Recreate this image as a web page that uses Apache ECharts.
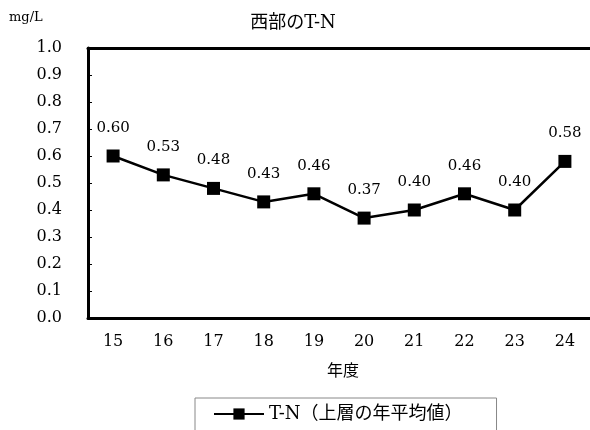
<!DOCTYPE html>
<html><head><meta charset="utf-8">
<script src="https://cdn.jsdelivr.net/npm/echarts@6/dist/echarts.min.js"></script>
<style>html,body{margin:0;padding:0;background:#fff}#c{width:590px;height:430px}</style>
</head><body><div id="c"></div>
<script>
const categories = ['15','16','17','18','19','20','21','22','23','24'];
const tnValues = [0.60, 0.53, 0.48, 0.43, 0.46, 0.37, 0.40, 0.46, 0.40, 0.58];
const seriesName = 'T-N（上層の年平均値）';
const titleText = '西部のT-N';
const unitText = 'mg/L';
const xName = '年度';

const FONT = '"DejaVu Serif", "Noto Sans CJK JP", serif';
const chart = echarts.init(document.getElementById('c'), null, {renderer: 'canvas'});
chart.setOption({
  animation: false,
  backgroundColor: '#fff',
  textStyle: {fontFamily: FONT, color: '#000'},
  title: {text: titleText, left: 288, top: 9, textAlign: 'center',
    textStyle: {fontFamily: FONT, fontSize: 18, fontWeight: 'normal', color: '#000'}},
  graphic: [
    {type: 'text', left: 9, top: 11, style: {text: unitText, font: '13px ' + FONT, fill: '#000'}},
    {type: 'text', left: 327, top: 364, style: {text: xName, font: '16px ' + FONT, fill: '#000'}}
  ],
  legend: {
    left: 195, top: 398,
    padding: [7, 34, 20, 18],
    borderColor: '#888', borderWidth: 1,
    itemWidth: 50, itemHeight: 14, itemGap: 8,
    textStyle: {fontFamily: FONT, fontSize: 18, color: '#000'},
    data: [seriesName]
  },
  grid: {left: 88, top: 48, width: 508, height: 270, containLabel: false},
  xAxis: [{
    type: 'category', data: categories, boundaryGap: true,
    axisLine: {lineStyle: {color: '#000', width: 3}},
    axisTick: {inside: true, length: 5, lineStyle: {color: '#000', width: 2}, alignWithLabel: false},
    axisLabel: {fontFamily: FONT, fontSize: 16, color: '#000', margin: 16},
    splitLine: {show: false}
  }, {
    type: 'category', data: categories, position: 'top',
    axisLine: {lineStyle: {color: '#000', width: 3}}, axisTick: {show: false}, axisLabel: {show: false},
    splitLine: {show: false}
  }],
  yAxis: {
    type: 'value', min: 0, max: 1.0, interval: 0.1,
    axisLine: {show: true, lineStyle: {color: '#000', width: 3}},
    axisTick: {show: true, inside: true, length: 4, lineStyle: {color: '#000', width: 1}},
    axisLabel: {fontFamily: FONT, fontSize: 16, color: '#000', margin: 26,
      formatter: v => v.toFixed(1)},
    splitLine: {show: false}
  },
  series: [{
    name: seriesName, type: 'line', data: tnValues, xAxisIndex: 0,
    symbol: 'rect', symbolSize: 13,
    lineStyle: {color: '#000', width: 2.5},
    itemStyle: {color: '#000'},
    label: {show: true, position: 'top', distance: 14, fontFamily: FONT, fontSize: 15, color: '#000',
      formatter: p => p.value.toFixed(2)}
  }]
});
</script></body></html>
